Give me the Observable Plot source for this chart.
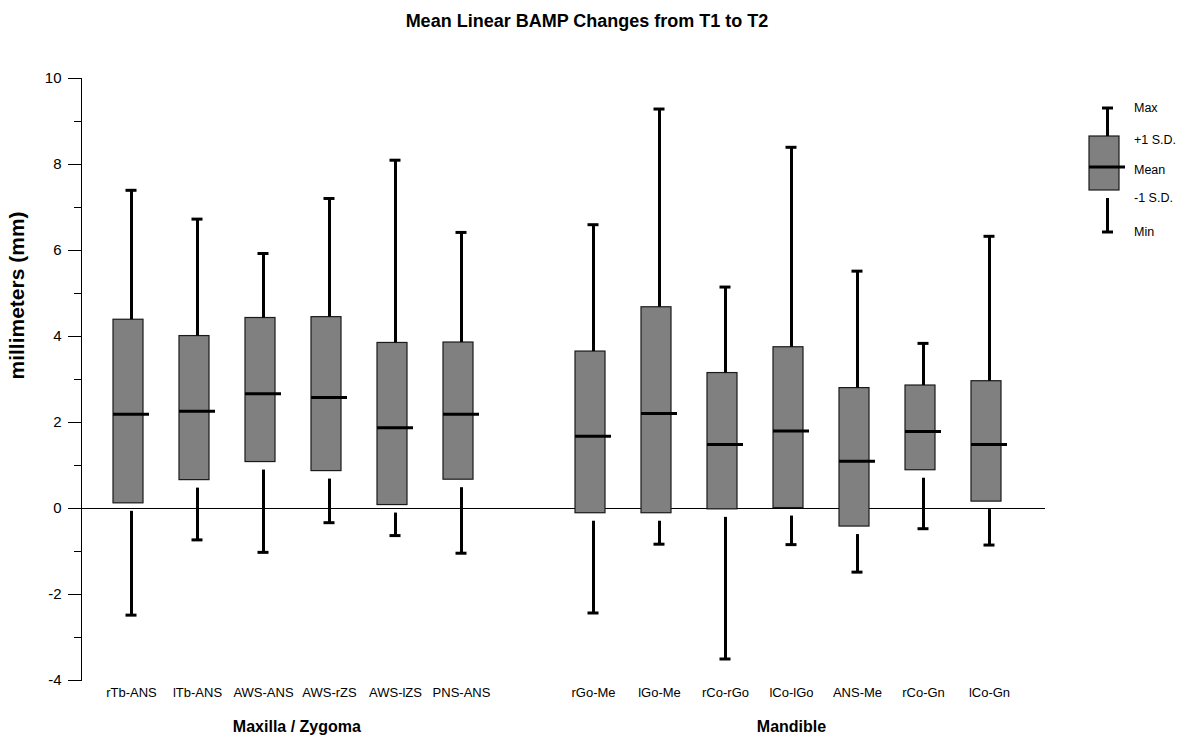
<!DOCTYPE html>
<html>
<head>
<meta charset="utf-8">
<script src="https://cdn.jsdelivr.net/npm/d3@7"></script>
<script src="https://cdn.jsdelivr.net/npm/@observablehq/plot@0.6"></script>
<style>
  html, body { margin: 0; padding: 0; background: #fff; }
  #page { position: relative; width: 1178px; height: 740px; font-family: 'Liberation Sans', Arial, sans-serif; }
  #title { position: absolute; left: 0; top: 12px; width: 1174px; text-align: center; font-weight: bold; font-size: 18px; line-height: 18px; color: #000; }
  #chart { position: absolute; left: 0; top: 60px; }
  #legend { position: absolute; left: 0; top: 0; pointer-events: none; }
</style>
</head>
<body>
<div id="page">
  <div id="title">Mean Linear BAMP Changes from T1 to T2</div>
  <div id="chart"></div>
  <svg id="legend" width="1178" height="740"></svg>
</div>
<script>
// ---- data ----
const maxillaCats = ["rTb-ANS", "lTb-ANS", "AWS-ANS", "AWS-rZS", "AWS-lZS", "PNS-ANS"];
const mandibleCats = ["rGo-Me", "lGo-Me", "rCo-rGo", "lCo-lGo", "ANS-Me", "rCo-Gn", "lCo-Gn"];
const groupNames = ["Maxilla / Zygoma", "Mandible"];
const maxVals  = [7.40, 6.73, 5.93, 7.21, 8.10, 6.42, 6.60, 9.29, 5.15, 8.40, 5.52, 3.84, 6.33];
const plusSD   = [4.39, 4.01, 4.43, 4.45, 3.85, 3.86, 3.65, 4.68, 3.15, 3.75, 2.80, 2.86, 2.96];
const means    = [2.19, 2.26, 2.67, 2.58, 1.88, 2.19, 1.68, 2.21, 1.49, 1.80, 1.10, 1.79, 1.49];
const minusSD  = [0.12, 0.66, 1.08, 0.87, 0.08, 0.67, -0.11, -0.11, -0.02, 0.01, -0.42, 0.89, 0.16];
const minVals  = [-2.48, -0.73, -1.02, -0.33, -0.63, -1.04, -2.43, -0.83, -3.50, -0.84, -1.48, -0.47, -0.85];
const yMajorTicks = [-4, -2, 0, 2, 4, 6, 8, 10];
const yMinorTicks = [-3, -1, 1, 3, 5, 7, 9];
const yLabel = "millimeters (mm)";
const legendLabels = ["Max", "+1 S.D.", "Mean", "-1 S.D.", "Min"];

// ---- build ----
const categories = [...maxillaCats, ...mandibleCats];
const spacer = " ";
const domain = [...maxillaCats, spacer, ...mandibleCats];
const rows = categories.map((c, i) => ({
  cat: c, max: maxVals[i], hi: plusSD[i], mean: means[i], lo: minusSD[i], min: minVals[i]
}));

const xRange = [81, 1039];
const padIn = 0.461, padOut = 0.4045;
const step = (xRange[1] - xRange[0]) / (domain.length - padIn + 2 * padOut);

const groups = [
  {name: groupNames[0], cats: maxillaCats},
  {name: groupNames[1], cats: mandibleCats}
];
const groupMarks = groups.map(g => {
  const n = g.cats.length;
  const mid = g.cats[Math.floor((n - 1) / 2)];
  return Plot.text([g.name], {
    x: () => mid, frameAnchor: "bottom", dy: 51,
    dx: n % 2 === 0 ? step / 2 : 0,
    fontSize: 16, fontWeight: "bold", fill: "black"
  });
});

const chart = Plot.plot({
  width: 1178,
  height: 680,
  marginLeft: 81,
  marginRight: 133,
  marginTop: 18,
  marginBottom: 60,
  style: {fontFamily: "'Liberation Sans', Arial, sans-serif", fontSize: "13px", color: "black", background: "white"},
  x: {type: "band", domain, range: xRange, paddingInner: padIn, paddingOuter: padOut, align: 0.5},
  y: {domain: [-4, 10]},
  marks: [
    Plot.frame({anchor: "left", stroke: "black"}),
    Plot.axisY({ticks: yMajorTicks, tickSize: 13, tickPadding: 7, fontSize: 15, tickFormat: d => String(d), label: null}),
    Plot.axisY({ticks: yMinorTicks, tickSize: 7, tickFormat: () => "", label: null}),
    Plot.axisX({ticks: categories, tickSize: 0, tickPadding: 7, fontSize: 13, label: null}),
    Plot.ruleY([0], {stroke: "black", strokeWidth: 1}),
    Plot.barY(rows, {x: "cat", y1: "lo", y2: "hi", fill: "#808080", stroke: "#1a1a1a", strokeWidth: 1.2, insetRight: 6}),
    Plot.ruleX(rows, {x: "cat", y1: "hi", y2: "max", stroke: "black", strokeWidth: 3}),
    Plot.ruleX(rows, {x: "cat", y1: "lo", y2: "min", stroke: "black", strokeWidth: 3, insetTop: 8}),
    Plot.tickY(rows, {x: "cat", y: "max", stroke: "black", strokeWidth: 3, insetLeft: 12.5, insetRight: 12.5}),
    Plot.tickY(rows, {x: "cat", y: "min", stroke: "black", strokeWidth: 3, insetLeft: 12.5, insetRight: 12.5}),
    Plot.tickY(rows, {x: "cat", y: "mean", stroke: "black", strokeWidth: 3}),
    Plot.text([yLabel], {frameAnchor: "left", rotate: -90, dx: -64, fontSize: 21, fontWeight: "bold", fill: "black"}),
    ...groupMarks
  ]
});
document.getElementById("chart").appendChild(chart);

// ---- legend (glyph explaining the box) ----
const lg = d3.select("#legend");
const wx = 1107.5;
lg.append("rect").attr("x", 1089).attr("y", 136).attr("width", 30).attr("height", 54)
  .attr("fill", "#808080").attr("stroke", "#1a1a1a").attr("stroke-width", 1.2);
lg.append("line").attr("x1", wx).attr("x2", wx).attr("y1", 108).attr("y2", 136).attr("stroke", "black").attr("stroke-width", 3);
lg.append("line").attr("x1", wx).attr("x2", wx).attr("y1", 198).attr("y2", 232).attr("stroke", "black").attr("stroke-width", 3);
lg.append("line").attr("x1", wx - 5.5).attr("x2", wx + 5.5).attr("y1", 108).attr("y2", 108).attr("stroke", "black").attr("stroke-width", 3);
lg.append("line").attr("x1", wx - 5.5).attr("x2", wx + 5.5).attr("y1", 232).attr("y2", 232).attr("stroke", "black").attr("stroke-width", 3);
lg.append("line").attr("x1", 1089).attr("x2", 1125).attr("y1", 167).attr("y2", 167).attr("stroke", "black").attr("stroke-width", 3);
const legendY = [108, 140, 170, 198, 232];
lg.selectAll("text.lab").data(legendLabels).join("text")
  .attr("class", "lab")
  .attr("x", 1134).attr("y", (d, i) => legendY[i])
  .attr("dy", "0.35em")
  .attr("font-family", "'Liberation Sans', Arial, sans-serif")
  .attr("font-size", 12.5)
  .attr("fill", "black")
  .text(d => d);
</script>
</body>
</html>
